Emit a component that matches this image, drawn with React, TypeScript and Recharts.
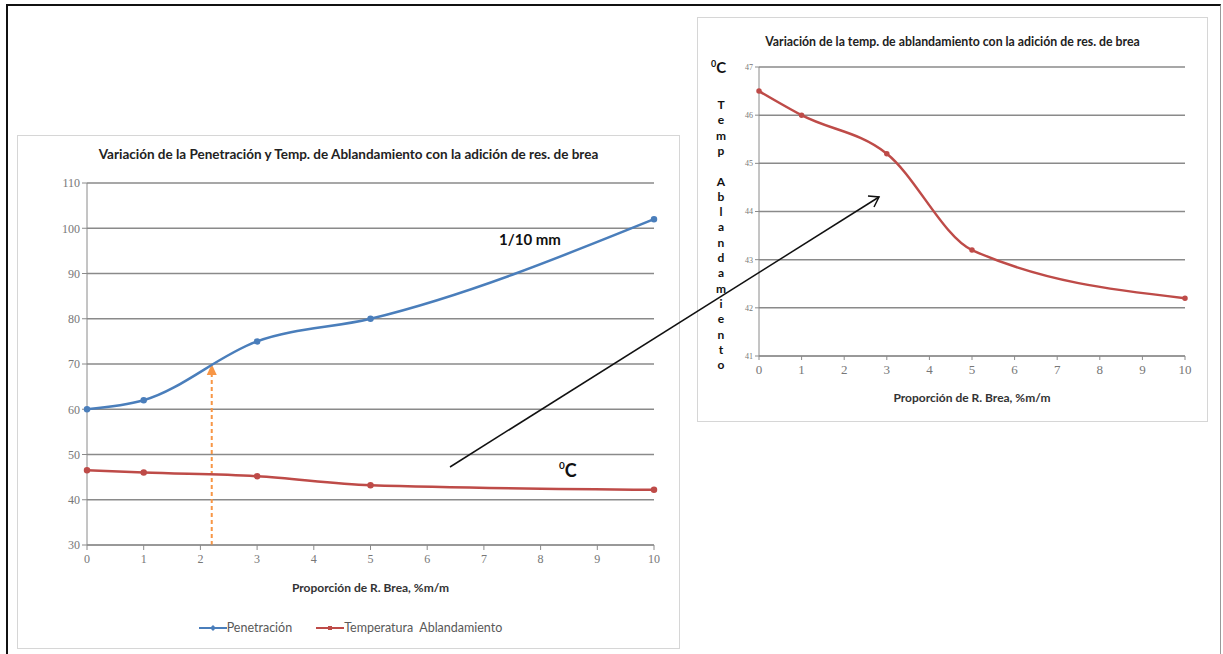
import { LineChart, Line, XAxis, YAxis, CartesianGrid, Legend, ReferenceLine } from 'recharts';

// valores
const proporcion = [0, 1, 3, 5, 10];
const penetracion = [60, 62, 75, 80, 102];
const temperatura = [46.5, 46.0, 45.2, 43.2, 42.2];

const xTicks = [0, 1, 2, 3, 4, 5, 6, 7, 8, 9, 10];
const yTicksIzq = [30, 40, 50, 60, 70, 80, 90, 100, 110];
const yTicksDer = [41, 42, 43, 44, 45, 46, 47];

// flecha naranja punteada (x = 2.2, de 30 a 70)
const flechaX = 2.2;
const flechaDesde = 30;
const flechaHasta = 70;

const AZUL = '#4A7EBB';
const ROJO = '#BE4B48';
const GRIS = '#8a8a8a';
const NARANJA = '#F79646';

const data = proporcion.map((x, i) => ({ x, pen: penetracion[i], temp: temperatura[i] }));

const letrasEje = ['T', 'e', 'm', 'p', '', 'A', 'b', 'l', 'a', 'n', 'd', 'a', 'm', 'i', 'e', 'n', 't', 'o'];

const FlechaNaranja = (p: any) => {
  const { x1, y1, x2, y2 } = p;
  const top = Math.min(y1, y2);
  const bottom = Math.max(y1, y2);
  return (
    <g>
      <line x1={x1} y1={bottom} x2={x2} y2={top + 9} stroke={NARANJA} strokeWidth={2} strokeDasharray="4 3" />
      <polygon points={`${x1},${top} ${x1 - 5},${top + 11} ${x1 + 5},${top + 11}`} fill={NARANJA} />
    </g>
  );
};

const LeyendaIzq = () => (
  <div style={{ display: 'flex', justifyContent: 'center', alignItems: 'center', gap: 24, fontFamily: 'Lato', fontSize: 12.5, color: '#595959' }}>
    <span style={{ display: 'flex', alignItems: 'center' }}>
      <svg width={28} height={10}>
        <line x1={0} y1={5} x2={28} y2={5} stroke={AZUL} strokeWidth={2} />
        <polygon points="14,2 17,5 14,8 11,5" fill={AZUL} />
      </svg>
      Penetración
    </span>
    <span style={{ display: 'flex', alignItems: 'center' }}>
      <svg width={28} height={10}>
        <line x1={0} y1={5} x2={28} y2={5} stroke={ROJO} strokeWidth={2} />
        <rect x={12} y={3} width={4} height={4} fill={ROJO} />
      </svg>
      Temperatura&nbsp; Ablandamiento
    </span>
  </div>
);

const tickSerif = { fontFamily: 'Liberation Serif', fontSize: 12, fill: '#777777' };

export default function App() {
  return (
    <div style={{ position: 'absolute', left: 0, top: 0, width: 1223, height: 654, background: '#fff', overflow: 'hidden' }}>
      {/* marco exterior */}
      <div style={{ position: 'absolute', left: 6, top: 4, width: 1212, height: 660, borderTop: '2px solid #111', borderLeft: '2px solid #111', borderRight: '1px solid #999' }} />

      {/* gráfico izquierdo */}
      <div style={{ position: 'absolute', left: 17, top: 135, width: 663, height: 514, border: '1px solid #d6d6d6', background: '#fff', boxSizing: 'border-box' }}>
        <div style={{ position: 'absolute', top: 10, left: 0, width: '100%', textAlign: 'center', fontFamily: 'Lato', fontWeight: 700, fontSize: 13.5, color: '#222' }}>
          Variación de la Penetración y Temp. de Ablandamiento con la adición de res. de brea
        </div>
        <div style={{ position: 'absolute', left: -1, top: -1 }}>
          <LineChart width={663} height={514} data={data} margin={{ top: 48, right: 26, left: 30, bottom: 30 }}>
            <CartesianGrid vertical={false} stroke={GRIS} strokeWidth={1.5} />
            <XAxis
              type="number"
              dataKey="x"
              domain={[0, 10]}
              ticks={xTicks}
              height={50}
              stroke={GRIS}
              tickSize={5}
              tickMargin={4}
              tick={tickSerif}
              label={{ value: 'Proporción de R. Brea, %m/m', position: 'insideBottom', offset: 3, style: { fontFamily: 'Lato', fontWeight: 700, fontSize: 12, fill: '#333' } }}
            />
            <YAxis
              type="number"
              domain={[30, 110]}
              ticks={yTicksIzq}
              width={40}
              stroke={GRIS}
              tickSize={5}
              tick={tickSerif}
            />
            <Legend verticalAlign="bottom" content={LeyendaIzq} wrapperStyle={{ bottom: 5, height: 24 }} />
            <ReferenceLine
              segment={[{ x: flechaX, y: flechaDesde }, { x: flechaX, y: flechaHasta }]}
              shape={FlechaNaranja}
            />
            <Line
              name="Penetración"
              type="monotone"
              dataKey="pen"
              stroke={AZUL}
              strokeWidth={2.5}
              dot={{ r: 2, fill: AZUL, stroke: AZUL }}
              isAnimationActive={false}
            />
            <Line
              name="Temperatura  Ablandamiento"
              type="monotone"
              dataKey="temp"
              stroke={ROJO}
              strokeWidth={2.5}
              dot={{ r: 2, fill: ROJO, stroke: ROJO }}
              isAnimationActive={false}
            />
          </LineChart>
        </div>
      </div>

      {/* gráfico derecho */}
      <div style={{ position: 'absolute', left: 697, top: 17, width: 511, height: 405, border: '1px solid #d6d6d6', background: '#fff', boxSizing: 'border-box' }}>
        <div style={{ position: 'absolute', top: 16, left: 0, width: '100%', textAlign: 'center', fontFamily: 'Lato', fontWeight: 700, fontSize: 12.3, color: '#222' }}>
          Variación de la temp. de ablandamiento con la adición de res. de brea
        </div>
        <div style={{ position: 'absolute', left: -1, top: -1 }}>
          <LineChart width={511} height={405} data={data} margin={{ top: 50, right: 23, left: 32, bottom: 16 }}>
            <CartesianGrid vertical={false} stroke={GRIS} strokeWidth={1.5} />
            <XAxis
              type="number"
              dataKey="x"
              domain={[0, 10]}
              ticks={xTicks}
              height={50}
              stroke={GRIS}
              tickSize={4}
              tickMargin={5}
              tick={{ ...tickSerif, fontSize: 13 }}
              label={{ value: 'Proporción de R. Brea, %m/m', position: 'insideBottom', offset: 4, style: { fontFamily: 'Lato', fontWeight: 700, fontSize: 12, fill: '#333' } }}
            />
            <YAxis
              type="number"
              domain={[41, 47]}
              ticks={yTicksDer}
              width={30}
              stroke={GRIS}
              tickSize={4}
              tick={{ ...tickSerif, fontSize: 8 }}
            />
            <Line
              name="Temperatura Ablandamiento"
              type="monotone"
              dataKey="temp"
              stroke={ROJO}
              strokeWidth={2.5}
              dot={{ r: 1.5, fill: ROJO, stroke: ROJO }}
              isAnimationActive={false}
            />
          </LineChart>
        </div>
      </div>

      {/* anotaciones */}
      <svg width={1223} height={654} style={{ position: 'absolute', left: 0, top: 0, pointerEvents: 'none' }}>
        <text x={530} y={245} textAnchor="middle" fontFamily="Lato" fontWeight={700} fontSize={15} fill="#111">1/10 mm</text>
        <text x={559} y={477} fontFamily="Lato" fontWeight={700} fontSize={18} fill="#111">
          <tspan fontSize={10} dy={-8}>0</tspan>
          <tspan dy={8}>C</tspan>
        </text>
        <text x={711} y={73} fontFamily="Lato" fontWeight={700} fontSize={15} fill="#111">
          <tspan fontSize={9} dy={-6}>0</tspan>
          <tspan dy={6}>C</tspan>
        </text>
        {letrasEje.map((l, i) => (
          <text key={i} x={721} y={109 + i * 15.3} textAnchor="middle" fontFamily="Lato" fontWeight={700} fontSize={12} fill="#111">{l}</text>
        ))}
        <line x1={450} y1={467} x2={879} y2={197} stroke="#111" strokeWidth={1.5} />
        <polyline points="868,196 879,197 874,207" fill="none" stroke="#111" strokeWidth={1.5} />
      </svg>
    </div>
  );
}
